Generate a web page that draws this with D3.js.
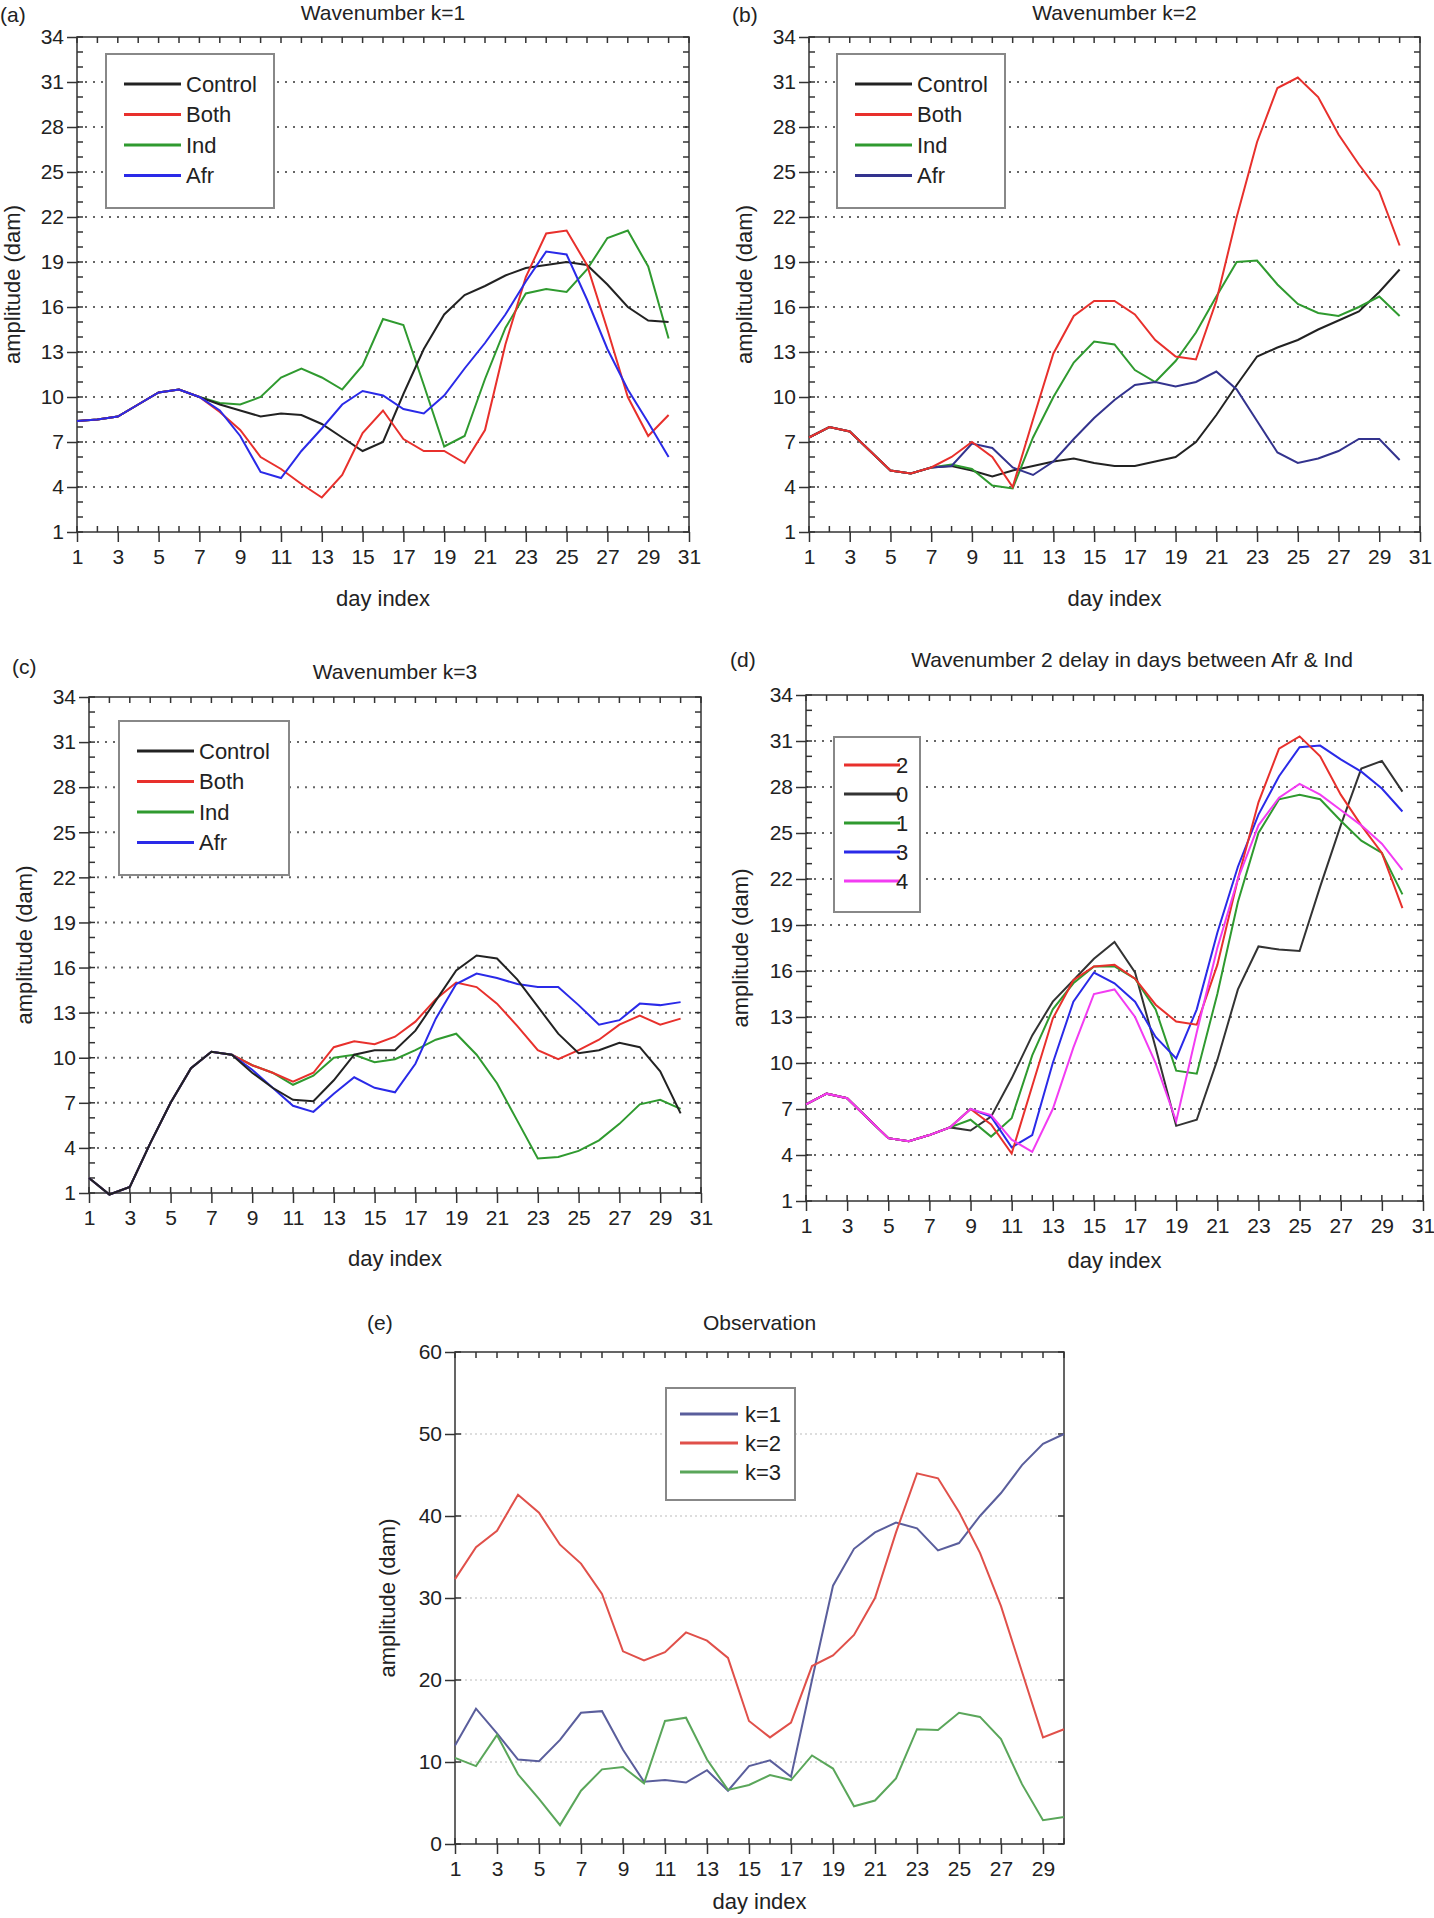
<!DOCTYPE html>
<html>
<head>
<meta charset="utf-8">
<script src="https://cdn.jsdelivr.net/npm/d3@7"></script>
<style>
body { margin: 0; background: #fff; }
text { font-family: "Liberation Sans", Arial, sans-serif; fill: #222; }
</style>
</head>
<body>
<div id="chart"></div>
<script>
// data, days 1..30
var days = d3.range(1, 31);
var shareA = [8.4, 8.5, 8.7, 9.5, 10.3, 10.5, 10.0];
var aControl = shareA.concat([9.5, 9.1, 8.7, 8.9, 8.8, 8.2, 7.3, 6.4, 7.0, 10.2, 13.2, 15.5, 16.8, 17.4, 18.1, 18.6, 18.8, 19.0, 18.8, 17.5, 16.0, 15.1, 15.0]);
var aBoth = shareA.concat([9.0, 7.8, 6.0, 5.2, 4.2, 3.3, 4.8, 7.6, 9.1, 7.2, 6.4, 6.4, 5.6, 7.8, 13.5, 18.0, 20.9, 21.1, 18.8, 14.5, 10.0, 7.4, 8.8]);
var aInd = shareA.concat([9.6, 9.5, 10.0, 11.3, 11.9, 11.3, 10.5, 12.1, 15.2, 14.8, 10.8, 6.7, 7.4, 11.2, 14.6, 16.9, 17.2, 17.0, 18.5, 20.6, 21.1, 18.7, 13.9]);
var aAfr = shareA.concat([9.1, 7.4, 5.0, 4.6, 6.4, 7.9, 9.5, 10.4, 10.1, 9.2, 8.9, 10.1, 11.9, 13.6, 15.5, 17.7, 19.7, 19.5, 16.5, 13.2, 10.5, 8.3, 6.0]);

var shareB = [7.3, 8.0, 7.7, 6.4, 5.1, 4.9, 5.3];
var bControl = shareB.concat([5.4, 5.1, 4.7, 5.1, 5.4, 5.7, 5.9, 5.6, 5.4, 5.4, 5.7, 6.0, 7.0, 8.8, 10.8, 12.7, 13.3, 13.8, 14.5, 15.1, 15.7, 17.0, 18.5]);
var bBoth = shareB.concat([6.0, 7.0, 6.0, 4.0, 8.5, 12.9, 15.4, 16.4, 16.4, 15.5, 13.8, 12.7, 12.5, 16.4, 22.0, 27.0, 30.6, 31.3, 30.0, 27.5, 25.5, 23.7, 20.1]);
var bInd = shareB.concat([5.5, 5.2, 4.1, 3.9, 7.3, 10.0, 12.3, 13.7, 13.5, 11.8, 11.0, 12.4, 14.3, 16.7, 19.0, 19.1, 17.5, 16.2, 15.6, 15.4, 16.0, 16.7, 15.4]);
var bAfr = shareB.concat([5.4, 6.9, 6.6, 5.3, 4.8, 5.7, 7.2, 8.6, 9.8, 10.8, 11.0, 10.7, 11.0, 11.7, 10.5, 8.4, 6.3, 5.6, 5.9, 6.4, 7.2, 7.2, 5.8]);

var shareC = [2.0, 0.9, 1.4, 4.3, 7.0, 9.3, 10.4, 10.2];
var cControl = shareC.concat([9.0, 8.0, 7.2, 7.1, 8.5, 10.2, 10.5, 10.5, 11.8, 13.8, 15.8, 16.8, 16.6, 15.2, 13.4, 11.6, 10.3, 10.5, 11.0, 10.7, 9.1, 6.3]);
var cBoth = shareC.concat([9.5, 9.0, 8.4, 9.0, 10.7, 11.1, 10.9, 11.4, 12.4, 13.9, 15.0, 14.7, 13.6, 12.1, 10.5, 9.9, 10.5, 11.2, 12.2, 12.8, 12.2, 12.6]);
var cInd = shareC.concat([9.5, 9.0, 8.2, 8.8, 10.0, 10.2, 9.7, 9.9, 10.5, 11.2, 11.6, 10.2, 8.3, 5.8, 3.3, 3.4, 3.8, 4.5, 5.6, 6.9, 7.2, 6.6]);
var cAfr = shareC.concat([9.2, 8.0, 6.8, 6.4, 7.6, 8.7, 8.0, 7.7, 9.6, 12.6, 14.9, 15.6, 15.3, 14.9, 14.7, 14.7, 13.5, 12.2, 12.5, 13.6, 13.5, 13.7]);

var shareD = [7.3, 8.0, 7.7, 6.4, 5.1, 4.9, 5.3, 5.8];
var d2 = shareD.concat([7.0, 6.0, 4.1, 8.5, 12.9, 15.4, 16.3, 16.4, 15.5, 13.8, 12.7, 12.5, 16.4, 22.0, 27.0, 30.5, 31.3, 30.0, 27.5, 25.5, 23.7, 20.1]);
var d0 = shareD.concat([5.6, 6.5, 9.0, 11.8, 14.0, 15.4, 16.8, 17.9, 15.9, 11.0, 5.9, 6.3, 10.2, 14.8, 17.6, 17.4, 17.3, 21.5, 25.5, 29.2, 29.7, 27.7]);
var d1 = shareD.concat([6.3, 5.2, 6.4, 10.5, 13.5, 15.2, 16.3, 16.3, 15.5, 13.5, 9.5, 9.3, 14.5, 20.5, 25.0, 27.2, 27.5, 27.2, 25.8, 24.5, 23.7, 21.0]);
var d3v = shareD.concat([7.0, 6.5, 4.5, 5.3, 10.0, 14.0, 15.9, 15.2, 14.0, 11.7, 10.3, 13.5, 18.5, 22.8, 26.2, 28.7, 30.6, 30.7, 29.8, 29.0, 27.9, 26.4]);
var d4 = shareD.concat([7.0, 6.6, 5.0, 4.2, 7.0, 11.0, 14.5, 14.8, 13.0, 10.0, 6.2, 12.0, 17.5, 22.0, 25.5, 27.3, 28.2, 27.5, 26.5, 25.5, 24.3, 22.6]);

var eK1 = [12, 16.5, 13.5, 10.3, 10.1, 12.7, 16.0, 16.2, 11.5, 7.6, 7.8, 7.5, 9.0, 6.5, 9.5, 10.2, 8.2, 20, 31.5, 36, 38, 39.2, 38.5, 35.8, 36.7, 40, 42.8, 46.2, 48.8, 50];
var eK2 = [32.3, 36.2, 38.2, 42.6, 40.4, 36.5, 34.2, 30.5, 23.5, 22.4, 23.4, 25.8, 24.8, 22.7, 15, 13, 14.8, 21.7, 23, 25.5, 30, 38, 45.2, 44.6, 40.5, 35.5, 29, 21, 13, 14];
var eK3 = [10.5, 9.5, 13.3, 8.5, 5.5, 2.3, 6.5, 9.1, 9.4, 7.4, 15, 15.4, 10.3, 6.6, 7.2, 8.4, 7.8, 10.8, 9.2, 4.6, 5.3, 8, 14, 13.9, 16, 15.5, 12.8, 7.3, 2.9, 3.3];

var modelTicksY = [1, 4, 7, 10, 13, 16, 19, 22, 25, 28, 31, 34];
var modelTicksX = [1, 3, 5, 7, 9, 11, 13, 15, 17, 19, 21, 23, 25, 27, 29, 31];
var obsTicksY = [0, 10, 20, 30, 40, 50, 60];
var obsTicksX = [1, 3, 5, 7, 9, 11, 13, 15, 17, 19, 21, 23, 25, 27, 29];

var svg = d3.select("#chart").append("svg")
    .attr("width", 1434).attr("height", 1918);

function panel(p) {
  var g = svg.append("g");
  var x = d3.scaleLinear().domain(p.xdom).range([p.x0, p.x1]);
  var y = d3.scaleLinear().domain(p.ydom).range([p.y1, p.y0]);

  // grid
  g.selectAll(".grid").data(p.yticks.filter(function(t){ return t > p.ydom[0] && t < p.ydom[1]; }))
    .enter().append("line")
    .attr("x1", p.x0).attr("x2", p.x1)
    .attr("y1", function(d){ return y(d); }).attr("y2", function(d){ return y(d); })
    .attr("stroke", p.obs ? "#bbb" : "#666")
    .attr("stroke-width", p.obs ? 1 : 2)
    .attr("stroke-dasharray", p.obs ? "2,3" : "2,6");

  // minor ticks
  var tl = 6;
  var xm = d3.range(p.xdom[0], p.xdom[1] + 0.01, 1);
  [p.y0, p.y1].forEach(function(yy, k) {
    g.selectAll(null).data(xm).enter().append("line")
      .attr("x1", function(d){ return x(d); }).attr("x2", function(d){ return x(d); })
      .attr("y1", yy).attr("y2", k === 0 ? yy + tl : yy - tl)
      .attr("stroke", "#333").attr("stroke-width", 1.5);
  });
  var ym = d3.range(p.ydom[0], p.ydom[1] + 0.01, p.ystep);
  [p.x0, p.x1].forEach(function(xx, k) {
    g.selectAll(null).data(ym).enter().append("line")
      .attr("y1", function(d){ return y(d); }).attr("y2", function(d){ return y(d); })
      .attr("x1", xx).attr("x2", k === 0 ? xx + tl : xx - tl)
      .attr("stroke", "#333").attr("stroke-width", 1.5);
  });

  // frame
  g.append("rect").attr("x", p.x0).attr("y", p.y0)
    .attr("width", p.x1 - p.x0).attr("height", p.y1 - p.y0)
    .attr("fill", "none").attr("stroke", "#333").attr("stroke-width", 1.5);

  // axes
  var xa = g.append("g").attr("transform", "translate(0," + p.y1 + ")")
    .call(d3.axisBottom(x).tickValues(p.xticks).tickSize(10).tickFormat(d3.format("d")));
  var ya = g.append("g").attr("transform", "translate(" + p.x0 + ",0)")
    .call(d3.axisLeft(y).tickValues(p.yticks).tickSize(10).tickFormat(d3.format("d")));
  [xa, ya].forEach(function(a) {
    a.select(".domain").remove();
    a.selectAll("line").attr("stroke", "#333").attr("stroke-width", 1.5);
    a.selectAll("text").style("font-size", "21px").attr("fill", "#222");
  });
  xa.selectAll("text").attr("dy", "0.9em");

  // lines
  var line = d3.line().x(function(d, i){ return x(days[i]); }).y(function(d){ return y(d); });
  p.series.forEach(function(s) {
    g.append("path").datum(s.v).attr("d", line)
      .attr("fill", "none").attr("stroke", s.c).attr("stroke-width", 2);
  });

  // legend
  var L = p.legend;
  g.append("rect").attr("x", L.x).attr("y", L.y).attr("width", L.w).attr("height", L.h)
    .attr("fill", "#fff").attr("stroke", "#888").attr("stroke-width", 2);
  p.series.slice().sort(function(a, b){ return a.o - b.o; }).forEach(function(s, i) {
    var yy = L.y + L.top + i * L.dy;
    g.append("line").attr("x1", L.x + L.l0).attr("x2", L.x + L.l1)
      .attr("y1", yy).attr("y2", yy).attr("stroke", s.c).attr("stroke-width", 3);
    g.append("text").attr("x", L.x + L.tx).attr("y", yy).attr("dy", "0.35em")
      .style("font-size", "22px").text(s.n);
  });

  // titles
  g.append("text").attr("x", p.tx != null ? p.tx : (p.x0 + p.x1) / 2).attr("y", p.ty)
    .attr("text-anchor", "middle").style("font-size", "21px").text(p.title);
  g.append("text").attr("x", p.lx).attr("y", p.ly).style("font-size", "21px").text(p.label);
  g.append("text").attr("x", (p.x0 + p.x1) / 2).attr("y", p.xly)
    .attr("text-anchor", "middle").style("font-size", "22px").text("day index");
  g.append("text").attr("transform", "translate(" + p.ylx + "," + ((p.y0 + p.y1) / 2) + ") rotate(-90)")
    .attr("text-anchor", "middle").style("font-size", "22px").text("amplitude (dam)");
}

var legModel = {w: 168, h: 154, top: 30, dy: 30.5, l0: 18, l1: 75, tx: 80};

panel({x0: 77, x1: 689, y0: 37, y1: 532, xdom: [1, 31], ydom: [1, 34], ystep: 1,
  xticks: modelTicksX, yticks: modelTicksY, title: "Wavenumber k=1", ty: 20, label: "(a)", lx: 0, ly: 22,
  xly: 606, ylx: 20,
  legend: Object.assign({x: 106, y: 54}, legModel),
  series: [{n: "Ind", c: "#2f9a2f", v: aInd, o: 2}, {n: "Control", c: "#222", v: aControl, o: 0},
           {n: "Both", c: "#e8302c", v: aBoth, o: 1}, {n: "Afr", c: "#2a2ae8", v: aAfr, o: 3}]});

panel({x0: 809, x1: 1420, y0: 37, y1: 532, xdom: [1, 31], ydom: [1, 34], ystep: 1,
  xticks: modelTicksX, yticks: modelTicksY, title: "Wavenumber k=2", ty: 20, label: "(b)", lx: 732, ly: 22,
  xly: 606, ylx: 752,
  legend: Object.assign({x: 837, y: 54}, legModel),
  series: [{n: "Control", c: "#222", v: bControl, o: 0}, {n: "Ind", c: "#2f9a2f", v: bInd, o: 2},
           {n: "Afr", c: "#33338e", v: bAfr, o: 3}, {n: "Both", c: "#e8302c", v: bBoth, o: 1}]});

panel({x0: 89, x1: 701, y0: 697, y1: 1193, xdom: [1, 31], ydom: [1, 34], ystep: 1,
  xticks: modelTicksX, yticks: modelTicksY, title: "Wavenumber k=3", ty: 679, label: "(c)", lx: 12, ly: 674,
  xly: 1266, ylx: 32,
  legend: Object.assign({x: 119, y: 721}, legModel, {w: 170}),
  series: [{n: "Ind", c: "#2f9a2f", v: cInd, o: 2}, {n: "Both", c: "#e8302c", v: cBoth, o: 1},
           {n: "Afr", c: "#2a2ae8", v: cAfr, o: 3}, {n: "Control", c: "#222", v: cControl, o: 0}]});

panel({x0: 806, x1: 1423, y0: 695, y1: 1201, xdom: [1, 31], ydom: [1, 34], ystep: 1,
  xticks: modelTicksX, yticks: modelTicksY, title: "Wavenumber 2 delay in days between Afr & Ind", ty: 667, tx: 1132,
  label: "(d)", lx: 730, ly: 667, xly: 1268, ylx: 748,
  legend: {x: 834, y: 737, w: 86, h: 175, top: 28, dy: 29, l0: 10, l1: 66, tx: 62},
  series: [{n: "0", c: "#333", v: d0, o: 1}, {n: "1", c: "#2f9a2f", v: d1, o: 2},
           {n: "3", c: "#2a2ae8", v: d3v, o: 3}, {n: "2", c: "#e8302c", v: d2, o: 0},
           {n: "4", c: "#f23cf2", v: d4, o: 4}]});

panel({x0: 455, x1: 1064, y0: 1352, y1: 1844, xdom: [1, 30], ydom: [0, 60], ystep: 10, obs: true,
  xticks: obsTicksX, yticks: obsTicksY, title: "Observation", ty: 1330, label: "(e)", lx: 367, ly: 1330,
  xly: 1909, ylx: 395,
  legend: {x: 666, y: 1388, w: 129, h: 112, top: 26, dy: 29, l0: 14, l1: 72, tx: 79},
  series: [{n: "k=1", c: "#5a5e9c", v: eK1, o: 0}, {n: "k=2", c: "#e0504a", v: eK2, o: 1},
           {n: "k=3", c: "#5aa65a", v: eK3, o: 2}]});
</script>
</body>
</html>
